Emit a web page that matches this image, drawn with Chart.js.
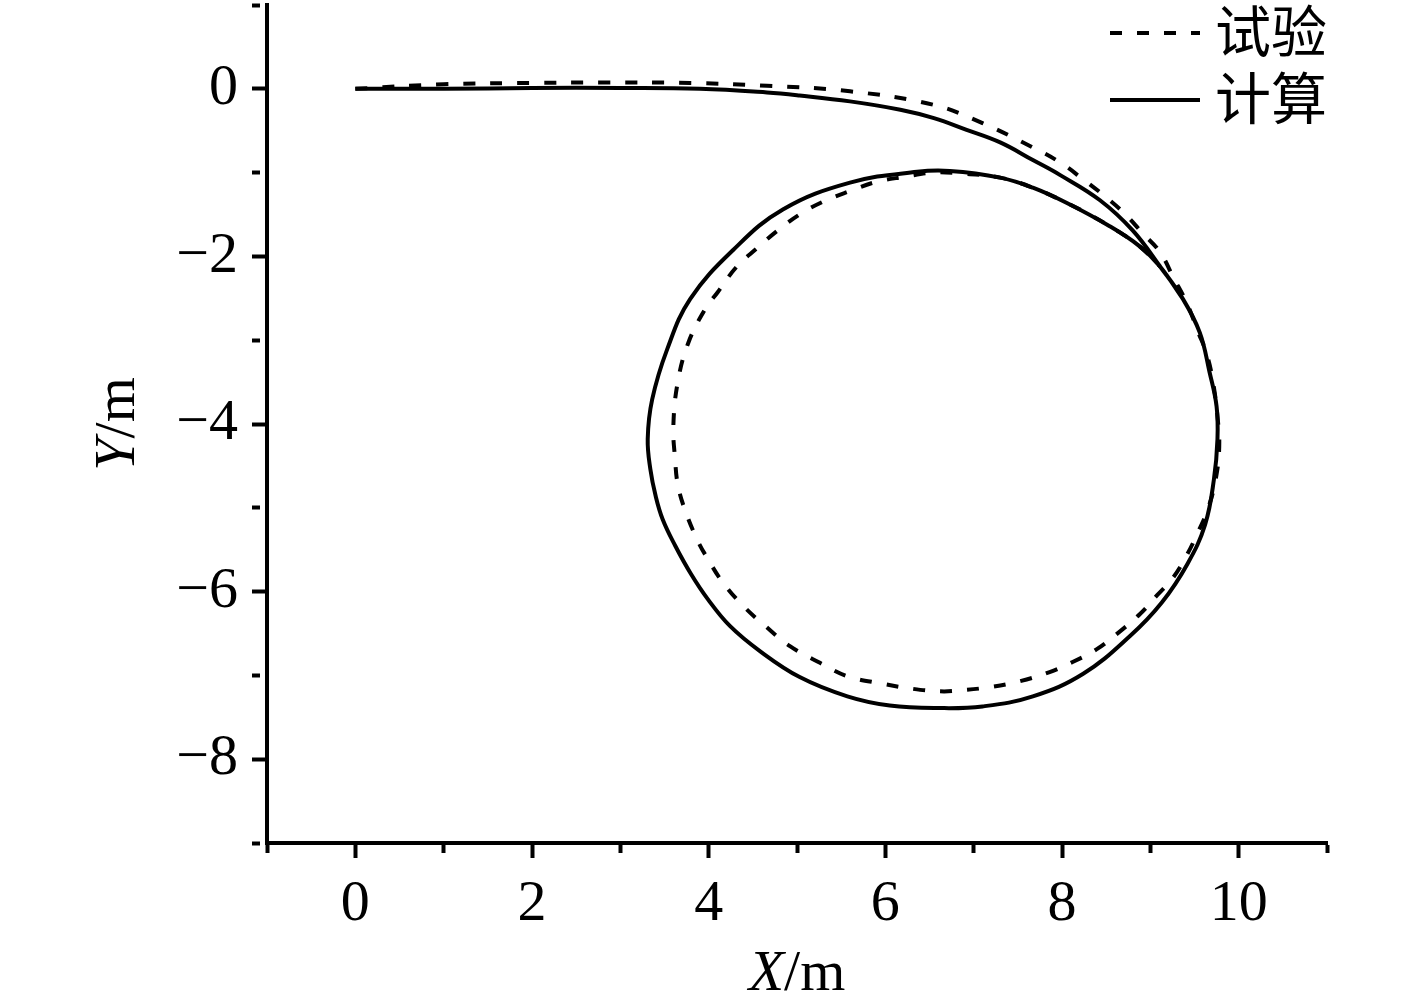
<!DOCTYPE html>
<html>
<head>
<meta charset="utf-8">
<title>Trajectory</title>
<script src="https://cdn.jsdelivr.net/npm/chart.js@4/dist/chart.umd.min.js"></script>
<style>
  body { margin: 0; background: #fff; }
</style>
</head>
<body>
<canvas id="track" width="1417" height="1008"></canvas>
<script>
// Data
var testX = [0, 1.0, 2.0, 2.77, 3.79, 4.66, 5.60, 6.54, 7.10, 7.67, 7.98, 8.24, 8.46, 8.69, 8.91, 9.11, 9.26, 9.41, 9.54, 9.64, 9.71, 9.76, 9.78, 9.74, 9.65, 9.54, 9.41, 9.26, 9.08, 8.88, 8.65, 8.39, 8.12, 7.86, 7.52, 7.18, 6.84, 6.62, 6.31, 5.97, 5.57, 5.26, 4.92, 4.64, 4.39, 4.16, 3.99, 3.87, 3.73, 3.65, 3.62, 3.60, 3.65, 3.77, 3.96, 4.10, 4.32, 4.55, 4.77, 5.03, 5.29, 5.60, 5.90, 6.22, 6.54, 6.84, 7.30, 7.67, 8.05, 8.31, 8.54, 8.88, 9.11]
var testY = [0, 0.054, 0.07, 0.075, 0.07, 0.036, -0.03, -0.19, -0.41, -0.70, -0.88, -1.08, -1.26, -1.47, -1.72, -1.95, -2.25, -2.55, -2.90, -3.17, -3.50, -3.91, -4.27, -4.66, -5.02, -5.29, -5.57, -5.83, -6.04, -6.27, -6.48, -6.69, -6.84, -6.96, -7.07, -7.14, -7.18, -7.19, -7.16, -7.10, -7.01, -6.85, -6.65, -6.41, -6.17, -5.89, -5.61, -5.38, -5.02, -4.72, -4.42, -4.03, -3.50, -3.03, -2.63, -2.43, -2.12, -1.90, -1.70, -1.50, -1.35, -1.22, -1.11, -1.05, -1.00, -1.01, -1.06, -1.18, -1.36, -1.50, -1.64, -1.88, -2.12]

var calcX = [0, 1.0, 2.0, 3.0, 3.9, 4.66, 5.03, 5.60, 6.17, 6.55, 6.92, 7.30, 7.67, 7.98, 8.43, 8.80, 9.11, 9.37, 9.56, 9.67, 9.75, 9.76, 9.72, 9.62, 9.42, 9.13, 8.77, 8.24, 7.67, 7.10, 6.62, 6.05, 5.57, 5.03, 4.58, 4.24, 3.99, 3.80, 3.62, 3.48, 3.40, 3.34, 3.31, 3.36, 3.53, 3.79, 4.28, 4.84, 5.60, 6.36, 6.73, 7.30, 7.67, 8.05, 8.54, 8.88, 9.11, 9.37]
var calcY = [0, 0.0, 0.01, 0.01, 0.0, -0.044, -0.08, -0.15, -0.25, -0.35, -0.49, -0.64, -0.85, -1.03, -1.33, -1.69, -2.12, -2.51, -2.91, -3.38, -3.79, -4.18, -4.66, -5.20, -5.67, -6.13, -6.53, -6.98, -7.25, -7.37, -7.39, -7.36, -7.25, -7.02, -6.71, -6.41, -6.09, -5.79, -5.45, -5.14, -4.86, -4.54, -4.18, -3.71, -3.11, -2.51, -1.92, -1.44, -1.12, -0.99, -0.98, -1.06, -1.18, -1.36, -1.64, -1.88, -2.12, -2.51]

var seriesNames = ['试验', '计算']
var xLabels = [0, 2, 4, 6, 8, 10]
var yLabels = [0, -2, -4, -6, -8]

function toPoints(xs, ys) {
    var pts = []
    for (let i = 0; i < xs.length; i++) {
        pts.push({x: xs[i], y: ys[i]})
    }
    return pts
}

function minus(v) {
    return String(v).replace('-', '\u2212')
}

Chart.defaults.font.family = "'Liberation Serif', 'Times New Roman', serif"
Chart.defaults.color = '#000'

// legend with line samples, top right inside the plot
var lineLegend = {
    id: 'lineLegend',
    afterDraw: function(chart) {
        var ctx = chart.ctx
        var area = chart.chartArea
        var ds = chart.data.datasets
        ctx.save()
        ctx.font = "56px 'Noto Sans CJK SC'"
        ctx.textAlign = 'right'
        ctx.textBaseline = 'middle'
        for (let i = 0; i < ds.length; i++) {
            var y = area.top + 28 + i * 67
            ctx.strokeStyle = ds[i].borderColor
            ctx.lineWidth = ds[i].borderWidth
            ctx.setLineDash(ds[i].borderDash || [])
            ctx.beginPath()
            ctx.moveTo(area.right - 217, y)
            ctx.lineTo(area.right - 127, y)
            ctx.stroke()
            ctx.fillStyle = '#000'
            ctx.fillText(ds[i].label, area.right, y - 2)
        }
        ctx.restore()
    }
}

// axis titles with italic variable names
var axisTitles = {
    id: 'axisTitles',
    afterDraw: function(chart) {
        var ctx = chart.ctx
        var area = chart.chartArea
        var it = "italic 58px 'Liberation Serif'"
        var rg = "58px 'Liberation Serif'"
        ctx.save()
        ctx.fillStyle = '#000'
        ctx.textBaseline = 'alphabetic'
        ctx.textAlign = 'left'

        ctx.font = it
        var wX = ctx.measureText('X').width
        ctx.font = rg
        var wU = ctx.measureText('/m').width
        var x0 = (area.left + area.right) / 2 - (wX + wU) / 2
        ctx.font = it
        ctx.fillText('X', x0, 990)
        ctx.font = rg
        ctx.fillText('/m', x0 + wX, 990)

        ctx.translate(134, (area.top + area.bottom) / 2)
        ctx.rotate(-Math.PI / 2)
        ctx.font = it
        var wY = ctx.measureText('Y').width
        var y0 = -(wY + wU) / 2
        ctx.fillText('Y', y0, 0)
        ctx.font = rg
        ctx.fillText('/m', y0 + wY, 0)
        ctx.restore()
    }
}

var ctx = document.getElementById('track').getContext('2d')
var chart = new Chart(ctx, {
    type: 'scatter',
    data: {
        datasets: [{
            label: seriesNames[0],
            data: toPoints(testX, testY),
            showLine: true,
            borderColor: '#000',
            borderWidth: 4,
            borderDash: [12, 15],
            pointRadius: 0,
            tension: 0.4,
        }, {
            label: seriesNames[1],
            data: toPoints(calcX, calcY),
            showLine: true,
            borderColor: '#000',
            borderWidth: 4,
            pointRadius: 0,
            tension: 0.4,
        }],
    },
    options: {
        responsive: false,
        animation: false,
        layout: { padding: { left: 0, right: 90, top: 5, bottom: 0 } },
        plugins: {
            legend: { display: false },
            tooltip: { enabled: false },
        },
        scales: {
            x: {
                type: 'linear',
                min: -1,
                max: 11,
                afterFit: function(scale) {
                    scale.height = 165
                    scale.paddingLeft = 0
                    scale.paddingRight = 0
                },
                border: { color: '#000', width: 4 },
                grid: {
                    drawOnChartArea: false,
                    tickLength: 15,
                    tickWidth: 4,
                    tickColor: '#000',
                    tickBorderDash: function(c) {
                        return xLabels.includes(c.tick.value) ? [] : [8, 100]
                    },
                },
                ticks: {
                    stepSize: 1,
                    padding: 12,
                    font: { size: 58 },
                    callback: function(v) { return xLabels.includes(v) ? minus(v) : '' },
                },
            },
            y: {
                type: 'linear',
                min: -9,
                max: 1,
                afterFit: function(scale) {
                    scale.width = 267
                    scale.paddingTop = 0
                    scale.paddingBottom = 0
                },
                border: { color: '#000', width: 4 },
                grid: {
                    drawOnChartArea: false,
                    tickLength: 15,
                    tickWidth: 4,
                    tickColor: '#000',
                    tickBorderDash: function(c) {
                        return yLabels.includes(c.tick.value) ? [] : [8, 100]
                    },
                },
                ticks: {
                    stepSize: 1,
                    padding: 14,
                    font: { size: 58 },
                    callback: function(v) { return yLabels.includes(v) ? minus(v) : '' },
                },
            },
        },
    },
    plugins: [lineLegend, axisTitles],
})
</script>
</body>
</html>
